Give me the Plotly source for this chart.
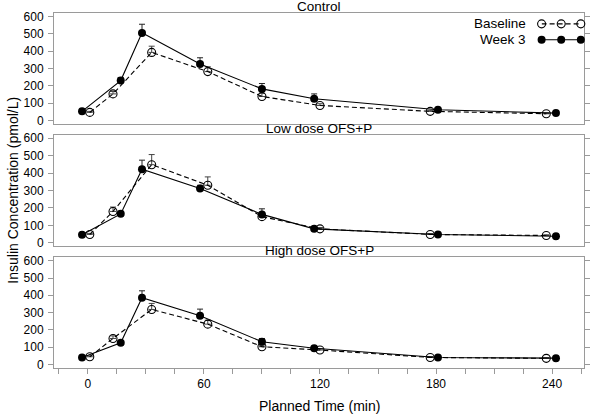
import plotly.graph_objects as go

# ---- data ----
panels = ["Control", "Low dose OFS+P", "High dose OFS+P"]
base_time = [1, 13, 33, 62, 90, 120, 177, 237]
week3_time = [-3, 17, 28, 58, 90, 117, 181, 242]

base_vals = [
    [46, 153, 393, 282, 138, 86, 52, 38],
    [48, 180, 448, 330, 150, 80, 48, 42],
    [44, 150, 318, 233, 102, 83, 40, 35],
]
base_err = [
    [6, 14, 36, 28, 18, 10, 6, 4],
    [6, 25, 58, 48, 15, 8, 5, 4],
    [5, 15, 35, 23, 10, 8, 5, 4],
]
week3_vals = [
    [52, 230, 506, 326, 182, 125, 61, 42],
    [46, 166, 422, 312, 163, 80, 48, 38],
    [40, 125, 386, 282, 131, 93, 40, 36],
]
week3_err = [
    [6, 18, 50, 36, 31, 28, 8, 5],
    [5, 15, 52, 18, 32, 8, 5, 4],
    [5, 10, 40, 38, 19, 8, 5, 4],
]

x_ticks = [-15, 0, 15, 30, 45, 60, 75, 90, 105, 120, 135, 150, 165, 180, 195, 210, 225, 240, 255]
x_ticklabels = [str(v) if v % 60 == 0 and v >= 0 else "" for v in x_ticks]
y_ticks = [0, 100, 200, 300, 400, 500, 600]

FONT = "Liberation Sans, Arial, Helvetica, sans-serif"
FRAME = "#9a9a9a"
DASH = "5px,3px"

PLOT_TOP, PLOT_BOT = 11, 368.3
H_PLOT = PLOT_BOT - PLOT_TOP

domains = [[0.6874, 1.0], [0.3423, 0.6577], [0.0, 0.3123]]

fig = go.Figure()

for i in range(3):
    xa = "x" if i == 0 else f"x{i+1}"
    ya = "y" if i == 0 else f"y{i+1}"
    fig.add_trace(go.Scatter(
        x=base_time, y=base_vals[i], xaxis=xa, yaxis=ya, mode="lines+markers",
        line=dict(color="black", width=1.1, dash=DASH),
        marker=dict(symbol="circle-open", size=8, color="black", line=dict(width=1.1)),
        error_y=dict(type="data", array=base_err[i], arrayminus=[0] * 8, symmetric=False,
                     color="#444444", thickness=1, width=3),
        showlegend=False,
    ))
    fig.add_trace(go.Scatter(
        x=week3_time, y=week3_vals[i], xaxis=xa, yaxis=ya, mode="lines+markers",
        line=dict(color="black", width=1.1),
        marker=dict(symbol="circle", size=8, color="black"),
        error_y=dict(type="data", array=week3_err[i], arrayminus=[0] * 8, symmetric=False,
                     color="#222222", thickness=1, width=3),
        showlegend=False,
    ))

    xkey = "xaxis" if i == 0 else f"xaxis{i+1}"
    ykey = "yaxis" if i == 0 else f"yaxis{i+1}"
    fig.update_layout(**{
        xkey: dict(
            domain=[0, 1], anchor=ya, range=[-17.5, 256.5],
            tickmode="array", tickvals=x_ticks, ticktext=x_ticklabels,
            ticks="outside" if i == 2 else "", ticklen=5, tickcolor=FRAME,
            showticklabels=(i == 2), showgrid=False, zeroline=False,
            showline=True, linecolor=FRAME, linewidth=1, mirror=True,
            tickfont=dict(family=FONT, size=12, color="black"),
            matches=None if i == 0 else "x",
        ),
        ykey: dict(
            domain=domains[i], anchor=xa, range=[-21, 621],
            tickmode="array", tickvals=y_ticks,
            ticks="outside", ticklen=5, tickcolor=FRAME,
            showgrid=False, zeroline=False,
            showline=True, linecolor=FRAME, linewidth=1, mirror="ticks",
            tickfont=dict(family=FONT, size=12, color="black"),
            ticklabelstandoff=2,
        ),
    })

# legend sample axis (overlay, hidden)
fig.add_trace(go.Scatter(
    x=[0, 0.5, 1], y=[0.767] * 3, xaxis="x4", yaxis="y4", mode="lines+markers",
    line=dict(color="black", width=1.1, dash=DASH),
    marker=dict(symbol="circle-open", size=8, color="black", line=dict(width=1.1)),
    showlegend=False, hoverinfo="skip", cliponaxis=False,
))
fig.add_trace(go.Scatter(
    x=[0, 0.5, 1], y=[0.233] * 3, xaxis="x4", yaxis="y4", mode="lines+markers",
    line=dict(color="black", width=1.1),
    marker=dict(symbol="circle", size=8, color="black"),
    showlegend=False, hoverinfo="skip", cliponaxis=False,
))
fig.update_layout(
    xaxis4=dict(domain=[0.920, 0.994], range=[0, 1], visible=False, anchor="y4"),
    yaxis4=dict(domain=[0.905, 0.989], range=[0, 1], visible=False, anchor="x4"),
)

annotations = []
for i, name in enumerate(panels):
    annotations.append(dict(
        text=name, xref="paper", yref="paper", x=0.5, y=domains[i][1],
        xanchor="center", yanchor="bottom", yshift=-3, showarrow=False,
        font=dict(family=FONT, size=13.5, color="black"),
    ))
annotations += [
    dict(text="Baseline", xref="paper", yref="paper", x=0.894, y=(PLOT_BOT - 22) / H_PLOT,
         xanchor="right", yanchor="middle", showarrow=False,
         font=dict(family=FONT, size=13.5, color="black")),
    dict(text="Week 3", xref="paper", yref="paper", x=0.894, y=(PLOT_BOT - 38) / H_PLOT,
         xanchor="right", yanchor="middle", showarrow=False,
         font=dict(family=FONT, size=13.5, color="black")),
    dict(text="Insulin Concentration (pmol/L)", xref="paper", yref="paper",
         x=-0.079, y=0.5, xanchor="center", yanchor="middle", textangle=-90,
         showarrow=False, font=dict(family=FONT, size=14, color="black")),
    dict(text="Planned Time (min)", xref="paper", yref="paper",
         x=0.5, y=(PLOT_BOT - 407) / H_PLOT, xanchor="center", yanchor="middle",
         showarrow=False, font=dict(family=FONT, size=14, color="black")),
]

fig.update_layout(
    width=600, height=419,
    margin=dict(l=54, r=10, t=PLOT_TOP, b=419 - PLOT_BOT),
    paper_bgcolor="white", plot_bgcolor="white",
    annotations=annotations,
    showlegend=False,
)

fig.write_html("out.html", config={"displayModeBar": False},
               post_script="document.body.style.margin='0';")
